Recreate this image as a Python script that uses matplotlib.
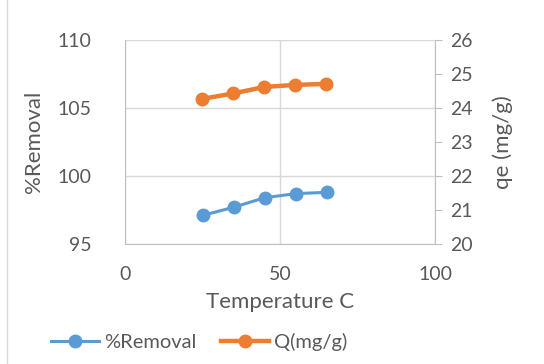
import matplotlib.pyplot as plt
from matplotlib.lines import Line2D
from matplotlib.patches import Rectangle

# Data
temperature = [25, 35, 45, 55, 65]
removal = [97.1, 97.7, 98.4, 98.7, 98.8]
qe = [24.27, 24.43, 24.62, 24.68, 24.71]

blue = "#5B9BD5"
orange = "#ED7D31"
grey_text = "#595959"
grid_col = "#D9D9D9"

plt.rcParams["font.family"] = ["Lato", "DejaVu Sans"]

fig = plt.figure(figsize=(5.44, 3.64), dpi=100)
ax = fig.add_axes([125 / 544, 1 - 244 / 364, 310 / 544, 204 / 364])
ax2 = ax.twinx()

# chart area border
fig.patches.append(Rectangle((7 / 544, -0.01), 1.2, 1.2, transform=fig.transFigure,
                             fill=False, edgecolor=grid_col, lw=1.0))

ax.plot(temperature, removal, color=blue, lw=2.2, marker="o", ms=9, zorder=3)
ax2.plot(temperature, qe, color=orange, lw=3.2, marker="o", ms=9, zorder=3)

ax.set_xlim(0, 100)
ax.set_ylim(95, 110)
ax2.set_ylim(20, 26)
ax.set_xticks([0, 50, 100])
ax.set_yticks([95, 100, 105, 110])
ax2.set_yticks(range(20, 27))

ax.grid(True, color=grid_col, lw=1.0)
ax.set_axisbelow(True)

for a in (ax, ax2):
    for s in a.spines.values():
        s.set_visible(False)
ax.spines["left"].set_visible(True)
ax.spines["bottom"].set_visible(True)
ax.spines["left"].set_color("#BFBFBF")
ax.spines["bottom"].set_color("#BFBFBF")
ax2.spines["right"].set_visible(True)
ax2.spines["right"].set_color("#BFBFBF")

ax.tick_params(axis="both", length=0, labelsize=14, labelcolor=grey_text, pad=16)
ax.tick_params(axis="y", pad=24)
ax2.tick_params(axis="y", length=5, color="#BFBFBF", labelsize=14,
                labelcolor=grey_text, pad=6)

ax.set_xlabel("Temperature C", fontsize=16, color=grey_text, labelpad=6)
ax.set_ylabel("%Removal", fontsize=16, color=grey_text, labelpad=10)
ax2.set_ylabel("qe (mg/g)", fontsize=16, color=grey_text, rotation=90, labelpad=14)

handles = [Line2D([], [], color=blue, lw=2.2, marker="o", ms=9),
           Line2D([], [], color=orange, lw=3.2, marker="o", ms=9)]
fig.legend(handles, ["%Removal", "Q(mg/g)"], loc="center left",
           bbox_to_anchor=(51 / 544, 1 - 342 / 364),
           ncol=2, frameon=False, fontsize=14.5, labelcolor=grey_text,
           handlelength=2.4, handletextpad=0.25, columnspacing=1.2, borderpad=0,
           borderaxespad=0)

fig.savefig("out.png", dpi=100)
